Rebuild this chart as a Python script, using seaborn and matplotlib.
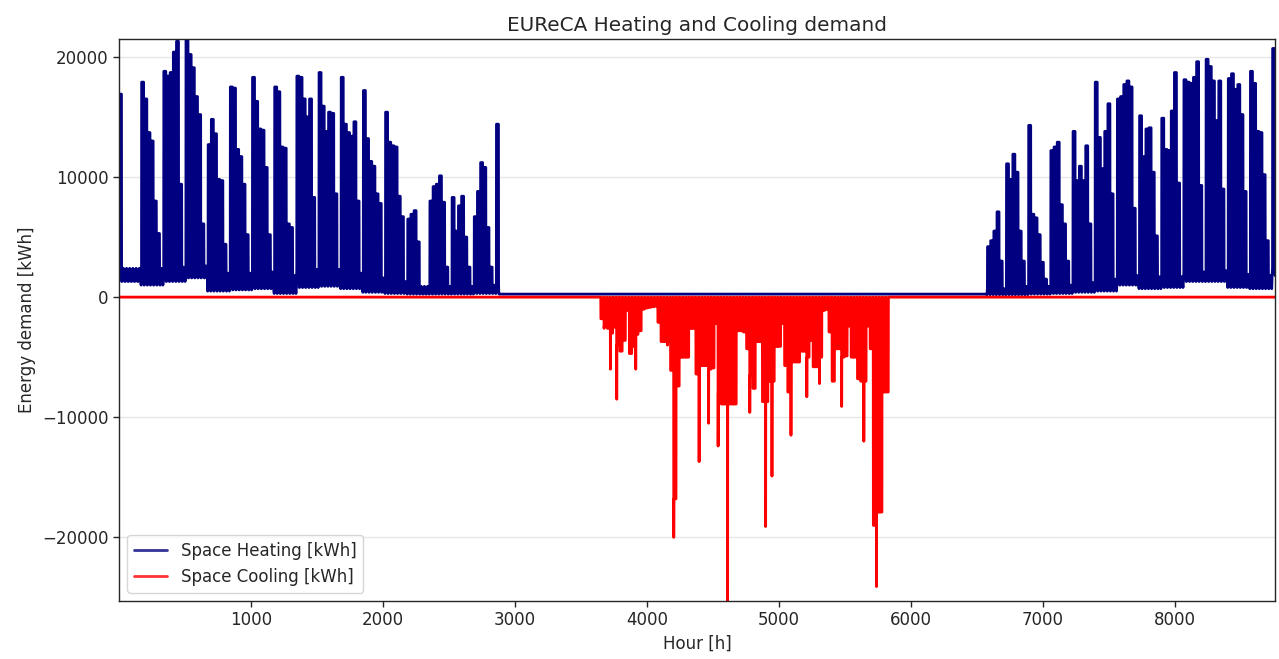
import matplotlib
matplotlib.use('Agg')
import matplotlib.pyplot as plt
import seaborn as sns

# heating: daily peak loads [kWh], one row per week (Mon..Sun), 0 = no start-up peak
heat_spring_start = 0
heat_spring = [
    [16900, 0, 0, 0, 0, 0, 0],
    [17900, 16500, 13700, 13000, 8000, 5300, 0],
    [18800, 18400, 18700, 20400, 21300, 9400, 0],
    [21500, 20200, 19100, 16700, 15200, 6100, 0],
    [12700, 14800, 13600, 9800, 9700, 4400, 0],
    [17500, 17400, 12300, 11700, 9400, 5200, 0],
    [18300, 16300, 14000, 13900, 10800, 5200, 0],
    [17500, 17100, 12500, 12400, 6100, 5800, 0],
    [18400, 18300, 16500, 15000, 16500, 8300, 0],
    [18700, 15900, 13800, 15400, 15300, 8600, 0],
    [18300, 14400, 13700, 13400, 14600, 8000, 0],
    [17200, 13200, 11300, 10900, 8600, 7800, 0],
    [15400, 12900, 12600, 12500, 8400, 6700, 0],
    [6500, 6900, 7200, 4600, 0, 0, 0],
    [8000, 9200, 9400, 10100, 7900, 2500, 0],
    [8300, 5500, 7600, 8400, 5000, 2500, 0],
    [6700, 8800, 11200, 10800, 5800, 2500, 0],
    [14400],
]
heat_spring_low = [1300, 1000, 1300, 1600, 500, 600, 700, 300, 800, 900, 700, 400, 300, 250, 250, 250, 300, 300]
heat_spring_high = [2400, 2400, 2500, 2600, 2000, 2000, 2100, 1800, 2300, 2300, 2000, 1600, 1300, 900, 900, 900, 1000, 1000]

heat_autumn_start = 274
heat_autumn = [
    [4200, 4700, 5500, 7100, 3000, 0],
    [11100, 9800, 11900, 10400, 5500, 3000, 0],
    [14300, 6900, 6600, 5200, 2900, 1500, 0],
    [12200, 12500, 12900, 7700, 6100, 3000, 0],
    [13800, 9700, 10900, 9700, 12600, 6100, 0],
    [17900, 13300, 10700, 13800, 16100, 8600, 0],
    [16500, 16700, 17700, 18000, 17500, 7400, 0],
    [15100, 11700, 14000, 14100, 10400, 5100, 0],
    [14900, 12300, 12200, 15500, 18700, 9500, 0],
    [18100, 17900, 17800, 18300, 19600, 9300, 0],
    [19800, 19200, 18000, 14700, 18000, 9000, 0],
    [18200, 18600, 17300, 17700, 15200, 8800, 0],
    [18800, 17800, 13800, 13700, 10200, 4700, 0],
    [20700],
]
heat_autumn_low = [200, 200, 250, 300, 400, 500, 1000, 700, 800, 1300, 1300, 800, 700, 1800]
heat_autumn_high = [700, 900, 900, 1000, 1200, 1500, 1800, 1700, 1700, 2100, 2200, 1900, 1800, 2500]
heat_off_value = 250

# cooling: days 152..242, daytime level and hourly peak [kWh]
cool_start = 152
cool_body = [
    -1800, -2400, -2600, -3000, -2500, -4000, -4500, -3600, -1100, -4700,
    -4100, -3100, -2800, -1000, -900, -850, -800, -750, -2100, -3700,
    -3700, -3700, -6100, -16800, -7400, -5000, -5000, -5000, -2600, -2600,
    -6400, -5700, -5700, -5700, -6000, -5900, -2200, -8000, -8900, -8900,
    -8900, -8900, -8900, -2800, -2800, -2900, -4300, -6500, -7600, -3700,
    -3700, -8700, -8700, -7000, -7000, -4100, -4100, -2200, -5700, -7900,
    -5400, -5400, -5400, -4500, -4500, -5000, -3600, -5800, -5800, -5000,
    -1100, -1000, -2900, -7000, -4300, -4300, -5000, -4900, -2400, -5000,
    -5000, -6800, -7000, -7000, -2400, -4300, -19000, -17900, -17900, -7900,
    -7900,
]
cool_peak = [
    -1800, -2600, -2600, -6000, -2500, -8500, -4500, -3600, -1100, -4700,
    -4100, -6000, -2800, -1000, -900, -850, -800, -750, -2100, -3700,
    -3700, -4000, -6100, -20000, -7400, -5000, -5000, -5000, -2600, -2600,
    -6400, -13700, -5700, -5700, -10500, -5900, -2200, -12400, -8900, -8900,
    -25300, -8900, -8900, -2800, -2800, -2900, -4300, -9600, -7600, -3700,
    -3700, -8700, -19100, -7000, -14900, -4100, -4100, -2200, -5700, -7900,
    -11500, -5400, -5400, -4500, -4500, -8300, -3600, -5800, -5800, -7200,
    -1100, -1000, -2900, -7000, -4300, -4300, -9100, -4900, -2400, -5000,
    -5000, -6800, -7000, -12000, -2400, -4300, -19000, -24100, -17900, -7900,
    -7900,
]


def heating_points(start_day, rows, lows, highs):
    xs, ys = [], []
    d = start_day
    for row, lo, hi in zip(rows, lows, highs):
        for pk in row:
            h = 24 * d + 1
            if pk > 0:
                xs += [h, h + 3, h + 4, h + 19, h + 20, h + 22]
                ys += [lo, hi, pk, pk, hi, lo]
            else:
                xs += [h, h + 10, h + 21]
                ys += [lo, hi, lo]
            d += 1
    return xs, ys


sx, sy = heating_points(heat_spring_start, heat_spring, heat_spring_low, heat_spring_high)
ax_, ay_ = heating_points(heat_autumn_start, heat_autumn, heat_autumn_low, heat_autumn_high)
heat_x = sx + [sx[-1] + 2, 24 * heat_autumn_start - 1] + ax_
heat_y = sy + [heat_off_value, heat_off_value] + ay_

cool_x, cool_y = [1, 24 * cool_start + 2], [0, 0]
for i, (body, pk) in enumerate(zip(cool_body, cool_peak)):
    h = 24 * (cool_start + i)
    cool_x += [h + 3, h + 4, h + 5, h + 21, h + 22]
    cool_y += [0, pk, body, body, 0]
cool_x += [24 * (cool_start + len(cool_body)) + 1, 8760]
cool_y += [0, 0]

sns.set_theme(style='ticks', rc={
    'font.size': 12, 'axes.titlesize': 14.4, 'axes.labelsize': 12,
    'xtick.labelsize': 12, 'ytick.labelsize': 12, 'legend.fontsize': 12,
    'axes.linewidth': 1.0, 'xtick.major.size': 4, 'ytick.major.size': 4,
    'xtick.major.width': 1.0, 'ytick.major.width': 1.0,
})
plt.rcParams['font.family'] = ['DejaVu Sans']

fig, ax = plt.subplots(figsize=(12.79, 6.59), dpi=100)
fig.subplots_adjust(left=0.093, right=0.997, top=0.941, bottom=0.088)

sns.lineplot(x=heat_x, y=heat_y, ax=ax, color='#000080', linewidth=2,
             estimator=None, label='Space Heating [kWh]')
sns.lineplot(x=cool_x, y=cool_y, ax=ax, color='#ff0000', linewidth=2,
             estimator=None, label='Space Cooling [kWh]')

ax.set_xlim(1, 8760)
ax.set_ylim(min(cool_y), max(heat_y))
ax.yaxis.grid(True, color='#e6e6e6', linewidth=1)
ax.set_axisbelow(True)
ax.set_title('EUReCA Heating and Cooling demand')
ax.set_xlabel('Hour [h]')
ax.set_ylabel('Energy demand [kWh]')
leg = ax.legend(loc='lower left')
for line in leg.get_lines():
    line.set_alpha(0.8)

fig.savefig('out.png', dpi=100)
